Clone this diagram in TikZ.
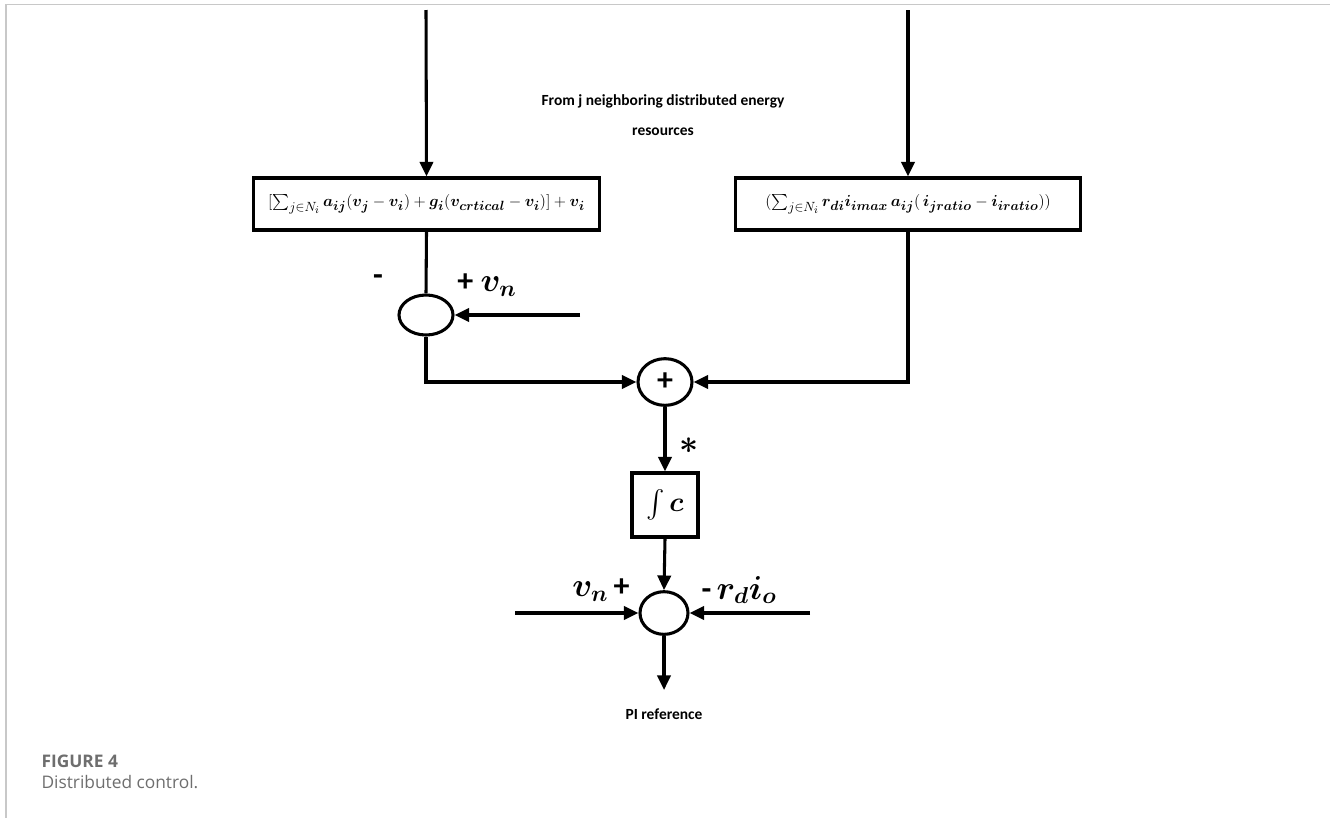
\documentclass[tikz,border=0pt]{standalone}
\usepackage{amsmath,bm}
\usepackage{fontspec}
\setmainfont{Carlito}
\newfontfamily\capfont{Open Sans}
\usetikzlibrary{arrows.meta,shapes.geometric}
\DeclareMathSizes{12.5}{12.5}{10}{8}
\definecolor{framegray}{HTML}{C8C8C8}
\definecolor{capgray}{HTML}{6E6E6E}
\begin{document}
\begin{tikzpicture}[x=0.75pt,y=-0.75pt,
  line width=2.3pt,
  >={Triangle[length=11pt,width=10pt]},
  flow/.style={->},
  eqbox/.style={draw,rectangle,minimum width=259pt,minimum height=39pt,inner sep=2pt,font=\fontsize{12.5}{14}\selectfont},
  intbox/.style={draw,rectangle,minimum width=49.5pt,minimum height=48pt,inner sep=0pt},
  sumnode/.style={draw,ellipse,inner sep=0pt},
  lbl/.style={font=\bfseries\fontsize{11.6}{22.5}\selectfont},
  siglbl/.style={font=\bfseries\fontsize{24}{28}\selectfont},
  capstyle/.style={font=\capfont\fontsize{13}{15}\selectfont,text=capgray,anchor=west,inner sep=0pt}
]
\useasboundingbox (0,0) rectangle (1330,818);
% page frame
\draw[framegray,line width=1.2pt] (1330,4.5) -- (6,4.5) -- (6,818);

% inputs at top
\coordinate (in1) at (426,10);
\coordinate (in2) at (908,10);

\node[lbl,align=center] (src) at (663,115) {From j neighboring distributed energy\\resources};

\node[eqbox] (b1) at (426.5,204) {$[\sum_{j\in N_i} \bm{a}_{\bm{ij}}(\bm{v}_{\bm{j}}-\bm{v}_{\bm{i}})+\bm{g}_{\bm{i}}(\bm{v}_{\bm{crtical}}-\bm{v}_{\bm{i}})]+\bm{v}_{\bm{i}}$};
\node[eqbox] (b2) at (908,204) {$(\sum_{j\in N_i} \bm{r}_{\bm{di}}\bm{i}_{\bm{imax}}\,\bm{a}_{\bm{ij}}(\,\bm{i}_{\bm{jratio}}-\bm{i}_{\bm{iratio}}))$};

\draw[flow] (in1) -- (b1.north);
\draw[flow] (in2) -- (b2.north);

% first summing junction
\node[sumnode,minimum width=40.5pt,minimum height=30pt] (s1) at (426,315) {};
\coordinate (vn1) at (580,315);
\draw (b1.south) -- (s1.north);
\draw[flow] (vn1) -- (s1.east);
\node[siglbl] (m1) at (378,280) {-};
\node[siglbl] (p1) at (487,285) {+ $\bm{v_n}$};

% second summing junction
\node[sumnode,minimum width=40.5pt,minimum height=35pt,font=\bfseries\fontsize{24}{26}\selectfont] (s2) at (665,382) {+};
\draw[flow] (s1.south) |- (s2.west);
\draw[flow] (b2.south) |- (s2.east);

% integrator
\node[intbox] (int) at (665,505) {\fontsize{21}{24}\selectfont$\int\bm{c}$};
\draw[flow] (s2.south) -- (int.north);
\node[font=\fontsize{24}{26}\selectfont] (star) at (689,446) {$\bm{\ast}$};

% third summing junction
\node[sumnode,minimum width=36pt,minimum height=32pt] (s3) at (664,613) {};
\coordinate (vn3) at (515,613);
\coordinate (rd3) at (810,613);
\coordinate (out) at (664,690);
\draw[flow] (int.south) -- (s3.north);
\draw[flow] (vn3) -- (s3.west);
\draw[flow] (rd3) -- (s3.east);
\draw[flow] (s3.south) -- (out);
\node[siglbl] (p3) at (601,590) {$\bm{v_n}$\,+};
\node[siglbl] (m3) at (739,590) {-\,$\bm{r_d i_o}$};
\node[lbl] (pi) at (664,714) {PI reference};

% caption
\node[capstyle,font=\capfont\bfseries\fontsize{13}{15}\selectfont] (fig) at (40,761) {FIGURE 4};
\node[capstyle] (cap) at (40,782) {Distributed control.};
\end{tikzpicture}
\end{document}
